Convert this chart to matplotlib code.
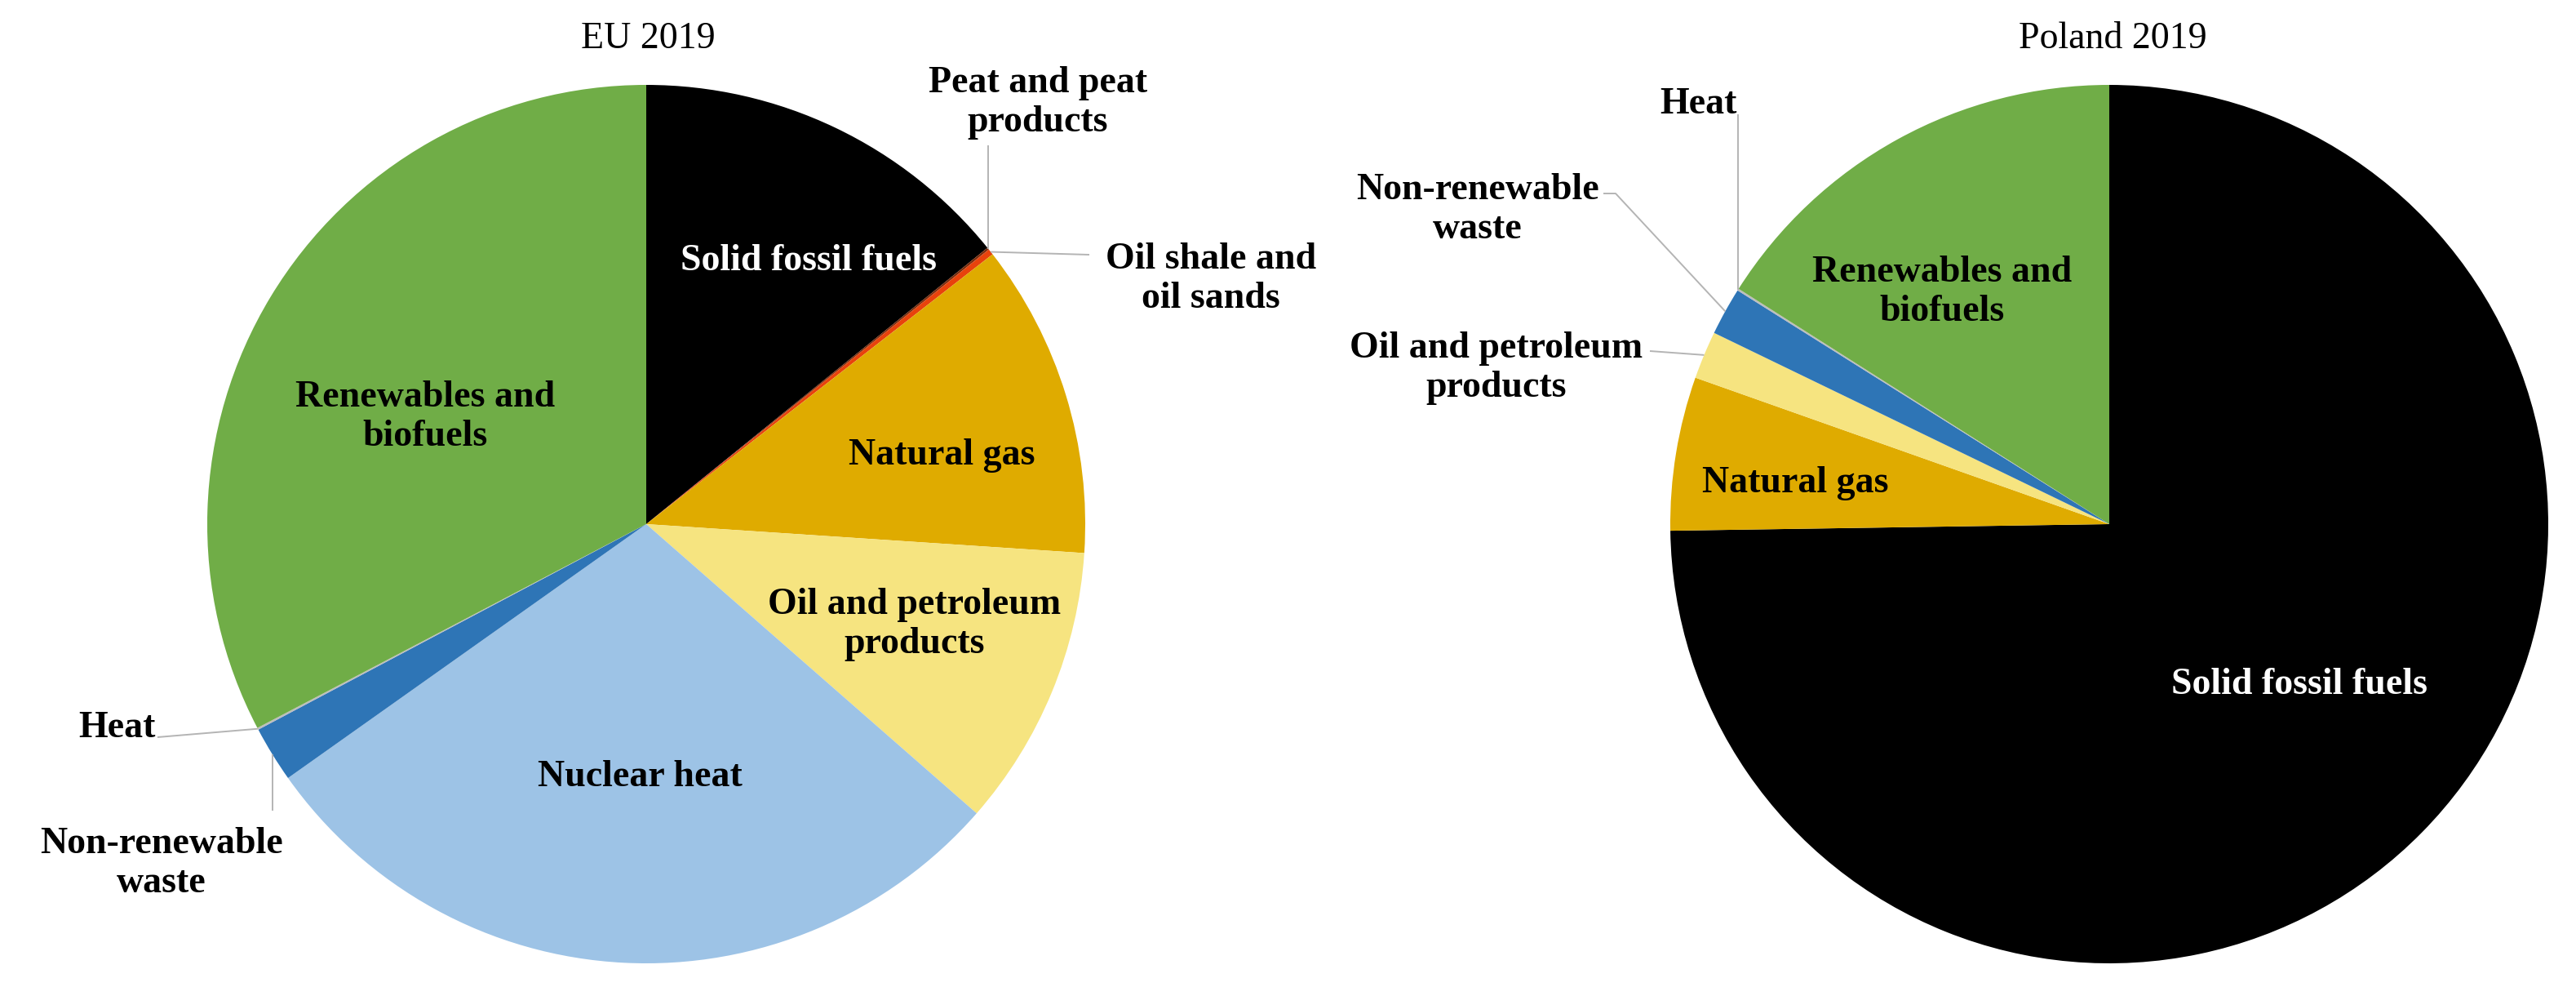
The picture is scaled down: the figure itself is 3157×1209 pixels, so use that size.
import numpy as np
import matplotlib.pyplot as plt

# energy production shares, 2019 (%), slices listed clockwise from 12 o'clock
eu_labels = ["Solid fossil fuels", "Peat and peat\nproducts", "Oil shale and\noil sands",
             "Natural gas", "Oil and petroleum\nproducts", "Nuclear heat",
             "Non-renewable\nwaste", "Heat", "Renewables and\nbiofuels"]
eu_values = [14.17, 0.08, 0.22, 11.58, 10.39, 28.75, 2.06, 0.07, 32.68]

pl_labels = ["Solid fossil fuels", "Natural gas", "Oil and petroleum\nproducts",
             "Non-renewable\nwaste", "Heat", "Renewables and\nbiofuels"]
pl_values = [74.76, 5.65, 1.76, 1.76, 0.07, 16.0]

colors = {
    "Solid fossil fuels": "#000000",
    "Peat and peat\nproducts": "#7B2C0C",
    "Oil shale and\noil sands": "#E8420C",
    "Natural gas": "#DFAB00",
    "Oil and petroleum\nproducts": "#F6E480",
    "Nuclear heat": "#9DC3E6",
    "Non-renewable\nwaste": "#2E75B6",
    "Heat": "#BDBDBD",
    "Renewables and\nbiofuels": "#70AD47",
}

W, H = 3157, 1209
plt.rcParams['font.family'] = ['Liberation Serif', 'DejaVu Serif']

fig = plt.figure(figsize=(W / 100, H / 100), dpi=100)
ax = fig.add_axes([0, 0, 1, 1])


def px(x, y):
    # layout helper: picture pixels (y down) -> axes units (y up)
    return x, H - y


def edge(wedge):
    mid = np.radians((wedge.theta1 + wedge.theta2) / 2)
    cx, cy = wedge.center
    return cx + wedge.r * np.cos(mid), cy + wedge.r * np.sin(mid)


def leader(wedge, pts):
    ex, ey = edge(wedge)
    xs, ys = [ex], [ey]
    for x, y in pts:
        xs.append(ex if x is None else x)
        ys.append(H - y)
    ax.plot(xs, ys, color="#B4B4B4", lw=1.4, solid_capstyle="butt")


R = 538
eu_c = px(792, 642)
pl_c = px(2585, 642)

eu_w, _ = ax.pie(eu_values, colors=[colors[k] for k in eu_labels], startangle=90,
                 counterclock=False, center=eu_c, radius=R,
                 wedgeprops=dict(linewidth=0))
pl_w, _ = ax.pie(pl_values, colors=[colors[k] for k in pl_labels], startangle=90,
                 counterclock=False, center=pl_c, radius=R,
                 wedgeprops=dict(linewidth=0))

ax.set_aspect('auto')
ax.set_xlim(0, W)
ax.set_ylim(0, H)
ax.axis('off')

lab = dict(fontsize=33, fontweight='bold', ha='center', va='center', linespacing=1.2)

# titles
ax.text(*px(794, 48), "EU 2019", fontsize=33, ha='center', va='center')
ax.text(*px(2589, 48), "Poland 2019", fontsize=33, ha='center', va='center')

# EU labels
eu_pos = [(991, 320), (1272, 126), (1484, 342), (1154, 558), (1121, 765),
          (784, 952), (198, 1058), (143, 892), (521, 511)]
for name, (x, y) in zip(eu_labels, eu_pos):
    c = 'white' if name == "Solid fossil fuels" else 'black'
    ax.text(*px(x, y), name, color=c, **lab)

leader(eu_w[1], [(None, 178)])
leader(eu_w[2], [(1335, 312)])
leader(eu_w[7], [(193, 903)])
leader(eu_w[6], [(None, 993)])

# Poland labels
pl_pos = [(2818, 839), (2200, 592), (1834, 451), (1811, 257), (2081, 128), (2380, 358)]
for name, (x, y) in zip(pl_labels, pl_pos):
    c = 'white' if name == "Solid fossil fuels" else 'black'
    ax.text(*px(x, y), name, color=c, **lab)

leader(pl_w[4], [(None, 140)])
leader(pl_w[3], [(1980, 237), (1965, 237)])
leader(pl_w[2], [(2022, 430)])

fig.savefig("out.png", dpi=100, facecolor='white')
